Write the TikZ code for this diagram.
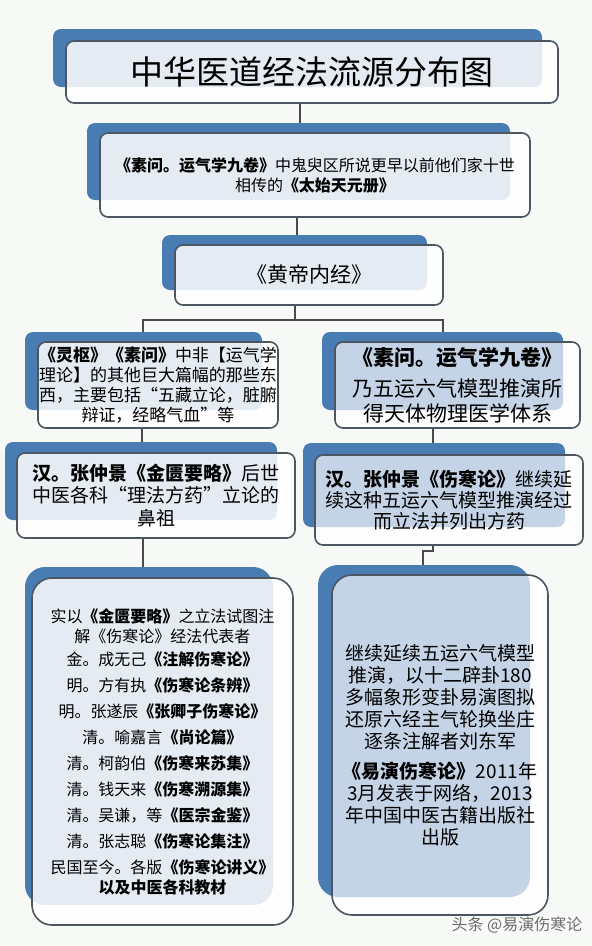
\documentclass[tikz,border=0pt]{standalone}
\usepackage{fontspec}
\newfontfamily\cjk{Noto Sans CJK SC}
\definecolor{backblue}{HTML}{4A7CB4}
\definecolor{edgecol}{HTML}{4B5660}
\definecolor{linecol}{HTML}{4A4A4A}
\definecolor{pagebg}{HTML}{F7F9F7}
\pgfdeclarelayer{bg}
\pgfdeclarelayer{connlayer}
\pgfsetlayers{bg,connlayer,main}
\tikzset{
  backbox/.style={fill=backblue, rounded corners=8pt},
  frontbox/.style={draw=edgecol, line width=1.6pt, fill=white, fill opacity=0.85,
    text opacity=1, rounded corners=8pt, inner sep=0pt, align=center, text=black},
  frontboxdim/.style={frontbox, fill opacity=0.68},
  conn/.style={draw=linecol, line width=1.5pt},
}
\begin{document}
\begin{tikzpicture}[x=1pt,y=-1pt]
\begin{pgfonlayer}{bg}
\fill[pagebg] (0,0) rectangle (592,946);
\end{pgfonlayer}
\useasboundingbox (0,0) rectangle (592,946);

% title
\fill[backbox] (53,29) rectangle (542,87);
\node[frontbox, minimum width=492pt, minimum height=62pt,
  font=\cjk\fontsize{33}{36}\selectfont] (title) at (312,72) {中华医道经法流源分布图};

% box 2
\fill[backbox] (87,123) rectangle (510,200);
\node[frontbox, minimum width=430pt, minimum height=84pt,
  font=\cjk\fontsize{16}{20}\selectfont] (b2) at (315,175)
  {\textbf{《素问。运气学九卷》}中鬼臾区所说更早以前他们家十世\\相传的\textbf{《太始天元册》}};

% box 3
\fill[backbox] (162,235) rectangle (427,290);
\node[frontbox, minimum width=268pt, minimum height=60pt,
  font=\cjk\fontsize{21}{24}\selectfont] (b3) at (309,275) {《黄帝内经》};

% box 4
\fill[backbox] (25,332) rectangle (262,410);
\node[frontbox, minimum width=240pt, minimum height=86pt,
  font=\cjk\fontsize{17}{20}\selectfont] (b4) at (158,385)
  {\textbf{《灵枢》《素问》}中非【运气学\\理论】的其他巨大篇幅的那些东\\西，主要包括“五藏立论，脏腑\\辩证，经略气血”等};

% box 5
\fill[backbox] (322,332) rectangle (563,410);
\node[frontboxdim, minimum width=245pt, minimum height=86pt,
  font=\cjk\fontsize{21}{25}\selectfont] (b5) at (457.5,385)
  {\textbf{《素问。运气学九卷》}\\[6pt]乃五运六气模型推演所\\得天体物理医学体系};

% box 6
\fill[backbox] (5,442) rectangle (277,520);
\node[frontbox, minimum width=278pt, minimum height=85pt,
  font=\cjk\fontsize{19}{22.5}\selectfont] (b6) at (156,495.5)
  {\textbf{汉。张仲景《金匮要略》}后世\\中医各科“理法方药”立论的\\鼻祖};

% box 7
\fill[backbox] (303,443) rectangle (565,527);
\node[frontboxdim, minimum width=268pt, minimum height=90pt,
  font=\cjk\fontsize{19}{21}\selectfont] (b7) at (449,500)
  {\textbf{汉。张仲景《伤寒论》}继续延\\续这种五运六气模型推演经过\\而立法并列出方药};

% box 8
\fill[backbox, rounded corners=20pt] (25,567) rectangle (273,905);
\node[frontbox, rounded corners=20pt, minimum width=261pt, minimum height=347pt,
  font=\cjk\fontsize{16}{20}\selectfont] (b8) at (162.5,751.5)
  {实以\textbf{《金匮要略》}之立法试图注\\
   解《伤寒论》经法代表者\\[3pt]
   金。成无己\textbf{《注解伤寒论》}\\[6pt]
   明。方有执\textbf{《伤寒论条辨》}\\[6pt]
   明。张遂辰\textbf{《张卿子伤寒论》}\\[6pt]
   清。喻嘉言\textbf{《尚论篇》}\\[6pt]
   清。柯韵伯\textbf{《伤寒来苏集》}\\[6pt]
   清。钱天来\textbf{《伤寒溯源集》}\\[6pt]
   清。吴谦，等\textbf{《医宗金鉴》}\\[6pt]
   清。张志聪\textbf{《伤寒论集注》}\\[6pt]
   民国至今。各版\textbf{《伤寒论讲义》}\\
   \textbf{以及中医各科教材}};

% box 9
\fill[backbox, rounded corners=20pt] (318,565) rectangle (530,897);
\node[frontboxdim, rounded corners=20pt, minimum width=216pt, minimum height=340pt,
  font=\cjk\fontsize{19}{22}\selectfont] (b9) at (440,745)
  {继续延续五运六气模型\\推演，以十二辟卦180\\多幅象形变卦易演图拟\\还原六经主气轮换坐庄\\逐条注解者刘东军\\[8pt]
   \textbf{《易演伤寒论》}2011年\\3月发表于网络，2013\\年中国中医古籍出版社\\出版};

% watermark
\node[font=\cjk\fontsize{16}{18}\selectfont, text=gray!85!black] (wm) at (517,925) {头条 @易演伤寒论};

% connectors
\begin{pgfonlayer}{connlayer}
\coordinate (split) at (295,320);
\draw[conn] ([xshift=-12pt]title.south) -- ([xshift=-15pt]b2.north);
\draw[conn] ([xshift=-18pt]b2.south) -- ([xshift=-12pt]b3.north);
\draw[conn] ([xshift=-14pt]b3.south) -- (split);
\draw[conn] (split) -| ([xshift=-15pt]b4.north);
\draw[conn] (split) -| ([xshift=-14.5pt]b5.north);
\draw[conn] ([xshift=-16pt]b4.south) -- ([xshift=-14pt]b6.north);
\draw[conn] ([xshift=-24.5pt]b5.south) -- ([xshift=-16pt]b7.north);
\draw[conn] ([xshift=-13pt]b6.south) -- ([xshift=-19.5pt]b8.north);
\draw[conn] ([xshift=-16pt]b7.south) -- ++(0,5) -| ([xshift=-17pt]b9.north);
\end{pgfonlayer}
\end{tikzpicture}
\end{document}
